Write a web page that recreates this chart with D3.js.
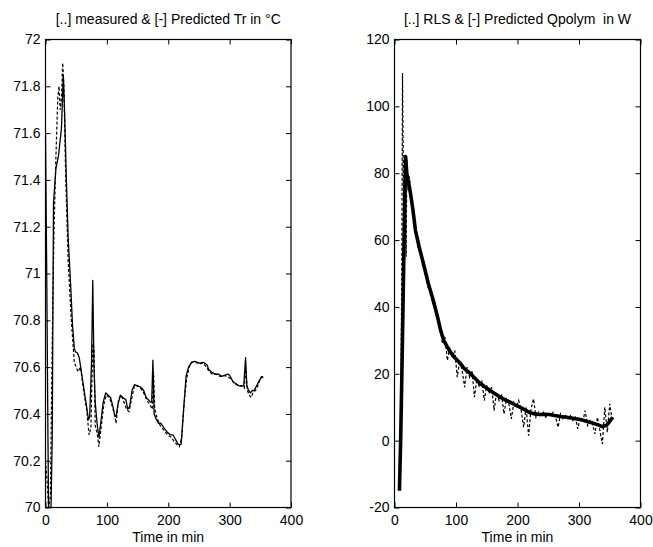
<!DOCTYPE html>
<html>
<head>
<meta charset="utf-8">
<script src="https://cdn.jsdelivr.net/npm/d3@7"></script>
<style>
  html, body { margin: 0; padding: 0; background: #fff; }
  svg { display: block; }
  text { font-family: "Liberation Sans", Arial, sans-serif; fill: #000; }
</style>
</head>
<body>
<svg id="chart" width="653" height="547"></svg>
<script>
// ---------------- DATA ----------------
// Left panel: reactor temperature Tr (°C)
const trPredTime = [0,2,4,5,9,11,13,17,21,26,29,31,34,37,41,44,47,49,52,55,59,63,67,70,72,75,77,79,81,84,87,90,94,98,102,106,110,113,115,118,122,126,131,134,137,141,145,150,155,160,164,168,171,173,175,177,180,184,188,193,199,204,208,212,216,221,225,229,233,238,243,248,253,258,263,266,270,276,282,287,292,297,300,303,306,310,315,320,323,326,328,331,334,337,340,344,348,352,355];
const trPred = [71.6,71.0,70.3,70.0,70.0,70.3,71.3,71.45,71.5,71.62,71.85,71.7,71.4,71.15,70.95,70.78,70.68,70.665,70.66,70.64,70.57,70.5,70.43,70.375,70.39,70.62,70.97,70.6,70.45,70.36,70.3,70.36,70.45,70.49,70.48,70.47,70.43,70.39,70.39,70.44,70.48,70.47,70.46,70.42,70.43,70.5,70.525,70.52,70.515,70.5,70.47,70.46,70.45,70.45,70.63,70.4,70.38,70.36,70.36,70.34,70.32,70.31,70.31,70.29,70.27,70.27,70.42,70.56,70.6,70.62,70.625,70.62,70.615,70.62,70.61,70.59,70.58,70.57,70.57,70.56,70.565,70.57,70.565,70.55,70.535,70.53,70.52,70.52,70.52,70.64,70.52,70.5,70.49,70.5,70.5,70.52,70.54,70.56,70.555];
const trMeasTime = [0,3,5,8,10,12,14,17,20,22,24,26,28,30,33,37,42,47,50,53,57,62,67,71,74,77,79,81,84,87,91,95,99,104,108,112,115,119,123,128,132,136,140,145,150,155,160,165,170,174,176,178,182,187,193,199,205,210,214,218,222,226,230,234,238,244,250,256,262,267,272,278,284,290,296,302,308,314,320,324,326,329,332,335,338,342,346,350,354];
const trMeas = [70.2,70.1,70.0,70.05,70.5,70.9,71.2,71.5,71.75,71.8,71.7,71.75,71.9,71.8,71.4,71.05,70.8,70.62,70.6,70.58,70.6,70.5,70.42,70.31,70.34,70.7,70.68,70.35,70.32,70.26,70.35,70.44,70.48,70.47,70.44,70.4,70.36,70.46,70.48,70.45,70.42,70.41,70.46,70.52,70.52,70.51,70.49,70.46,70.44,70.42,70.58,70.42,70.38,70.35,70.33,70.31,70.3,70.28,70.27,70.26,70.3,70.45,70.55,70.6,70.62,70.62,70.615,70.62,70.6,70.58,70.57,70.57,70.56,70.565,70.56,70.55,70.53,70.52,70.52,70.51,70.6,70.5,70.48,70.47,70.49,70.5,70.52,70.55,70.56];
const trTicks = [70,70.2,70.4,70.6,70.8,71,71.2,71.4,71.6,71.8,72];
const trTickLabels = ["70","70.2","70.4","70.6","70.8","71","71.2","71.4","71.6","71.8","72"];

// Right panel: polymerisation heat Qpolym (W)
const qPredTime = [8,10,12,14,16,18,20,22,26,30,34,40,47,55,63,70,75,80,89,97,106,114,122,130,138,146,154,162,171,179,187,195,203,212,220,228,236,244,252,260,270,280,290,302,312,322,330,338,344,348,352,355];
const qPred = [-15,0,20,42,65,85,80,78,74,69,63,58,53,47,42,37,33,30,27,25,23.3,21.5,20.3,18.8,17.3,16.2,15.2,14.2,13.1,12.3,11.6,10.8,10.1,9.2,8.4,8.0,7.8,7.9,7.8,7.5,7.2,7.0,6.7,6.3,5.8,5.3,4.8,4.2,4.5,5.3,6.3,7.0];
const rlsTime = [8,10,11,12,13,14,15,16,17,18,19,20,21,22,24,26,30,34,38,42,46,50,54,58,62,66,70,74,78,82,86,90,94,98,102,106,110,114,118,122,126,130,134,138,142,146,150,154,158,162,166,170,174,178,182,186,190,194,198,202,206,210,214,218,222,226,230,234,238,242,246,250,254,258,262,266,270,274,278,282,286,290,294,298,302,306,310,314,318,322,326,330,334,338,342,346,350,354];
const rls = [-12,5,30,55,110,90,65,45,72,80,55,84,80,75,79,76,67,64,58,57,52,52,46,46,41,41,36,35,29,31,24,28,25,27,19,24,21,16,22,19,21,13,18.5,16,18,12,16.5,14,16,9,14.5,12,14,8,12.5,11,6.5,11.5,10,12,9,4,10,1.5,9.5,12.5,7,8.5,7.5,8.5,7,8,7.5,8.5,7,4,8,6.5,7.5,6.5,7.5,6,7,3.5,7,5.5,9,4.5,6,5,2,7,3,-1,10,2.5,11,6];
const qTicks = [-20,0,20,40,60,80,100,120];
const qTickLabels = ["-20","0","20","40","60","80","100","120"];

const timeTicks = [0,100,200,300,400];
const timeTickLabels = ["0","100","200","300","400"];

const titles = ["[..] measured & [-] Predicted Tr in °C", "[..] RLS & [-] Predicted Qpolym\u00a0 in W"];
const xLabel = "Time in min";

// ---------------- DRAW ----------------
const svg = d3.select("#chart");
svg.append("rect").attr("width", 653).attr("height", 547).attr("fill", "#fff");

function panel(cfg) {
  const x = d3.scaleLinear().domain([0, 400]).range([cfg.left, cfg.right]);
  const y = d3.scaleLinear().domain(cfg.yDomain).range([cfg.bottom, cfg.top]);
  const g = svg.append("g");
  const fontSize = 14;

  const clipId = "clip" + cfg.id;
  svg.append("clipPath").attr("id", clipId).append("rect")
    .attr("x", cfg.left).attr("y", cfg.top)
    .attr("width", cfg.right - cfg.left).attr("height", cfg.bottom - cfg.top);

  const yFmt = d => cfg.yLabels[cfg.yTicks.indexOf(d)];
  const xFmt = d => timeTickLabels[timeTicks.indexOf(d)];

  const ax = [
    g.append("g").attr("transform", `translate(0,${cfg.bottom})`)
      .call(d3.axisBottom(x).tickValues(timeTicks).tickFormat(xFmt).tickSize(-5).tickPadding(8)),
    g.append("g").attr("transform", `translate(0,${cfg.top})`)
      .call(d3.axisTop(x).tickValues(timeTicks).tickFormat("").tickSize(-5)),
    g.append("g").attr("transform", `translate(${cfg.left},0)`)
      .call(d3.axisLeft(y).tickValues(cfg.yTicks).tickFormat(yFmt).tickSize(-5).tickPadding(5)),
    g.append("g").attr("transform", `translate(${cfg.right},0)`)
      .call(d3.axisRight(y).tickValues(cfg.yTicks).tickFormat("").tickSize(-5))
  ];
  ax.forEach(a => {
    a.select(".domain").remove();
    a.selectAll("line").attr("stroke", "#000").attr("stroke-width", 1);
    a.selectAll("text").attr("font-size", fontSize)
      .attr("font-family", '"Liberation Sans", Arial, sans-serif').attr("fill", "#000");
  });

  g.append("rect").attr("x", cfg.left).attr("y", cfg.top)
    .attr("width", cfg.right - cfg.left).attr("height", cfg.bottom - cfg.top)
    .attr("fill", "none").attr("stroke", "#000").attr("stroke-width", 1.2);

  const line = d3.line().x(d => x(d[0])).y(d => y(d[1]));
  const dg = g.append("g").attr("clip-path", `url(#${clipId})`);

  dg.append("path")
    .datum(d3.zip(cfg.dashT, cfg.dashV))
    .attr("d", line).attr("fill", "none").attr("stroke", "#000")
    .attr("stroke-width", 1.2).attr("stroke-dasharray", "3,2");

  dg.append("path")
    .datum(d3.zip(cfg.solidT, cfg.solidV))
    .attr("d", line).attr("fill", "none").attr("stroke", "#000")
    .attr("stroke-width", cfg.solidWidth).attr("stroke-linejoin", "round");

  g.append("text").attr("x", (cfg.left + cfg.right) / 2).attr("y", 24)
    .attr("text-anchor", "middle").attr("font-size", fontSize).text(cfg.title);
  g.append("text").attr("x", (cfg.left + cfg.right) / 2).attr("y", 542)
    .attr("text-anchor", "middle").attr("font-size", fontSize).text(xLabel);
}

panel({
  id: "L", left: 45.5, right: 291, top: 39.5, bottom: 507.5,
  yDomain: [70, 72], yTicks: trTicks, yLabels: trTickLabels,
  solidT: trPredTime, solidV: trPred, solidWidth: 1.3,
  dashT: trMeasTime, dashV: trMeas, title: titles[0]
});

panel({
  id: "R", left: 394.5, right: 640.5, top: 39.5, bottom: 507.5,
  yDomain: [-20, 120], yTicks: qTicks, yLabels: qTickLabels,
  solidT: qPredTime, solidV: qPred, solidWidth: 3.6,
  dashT: rlsTime, dashV: rls, title: titles[1]
});
</script>
</body>
</html>
